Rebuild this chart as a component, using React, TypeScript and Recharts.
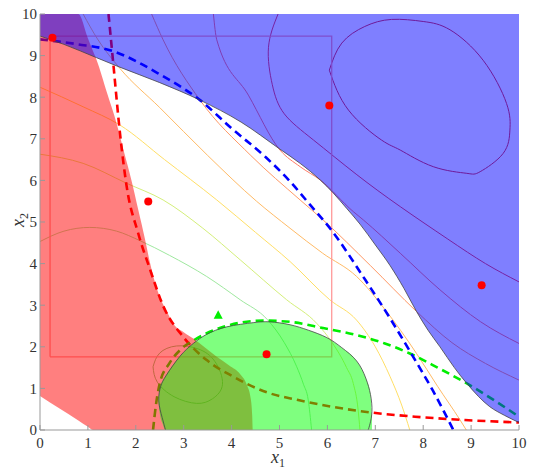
import { ComposedChart, Line, Area, Scatter, XAxis, YAxis, Label } from "recharts";

document.body.style.margin = "0";

// axis ticks
const xTicks = [0, 1, 2, 3, 4, 5, 6, 7, 8, 9, 10];
const yTicks = [0, 1, 2, 3, 4, 5, 6, 7, 8, 9, 10];

// constraint regions: [x, low, high]
const redRegion = [
  [0, 0.82, 10], [0.4, 0.52, 10], [0.8, 0.23, 10], [1.0, 0.08, 9.42], [1.11, 0, 9.1],
  [1.18, 0, 8.9], [1.4, 0, 8.1], [1.6, 0, 7.37], [1.75, 0, 6.7], [1.91, 0, 6.0],
  [2.05, 0, 5.3], [2.19, 0, 4.6], [2.3, 0, 4.0], [2.4, 0, 3.55], [2.5, 0, 3.2],
  [2.65, 0, 2.85], [2.78, 0, 2.56], [3.0, 0, 2.35], [3.2, 0, 2.2], [3.45, 0, 1.98],
  [3.69, 0, 1.76], [3.95, 0, 1.55], [4.18, 0, 1.34], [4.32, 0, 1.08], [4.4, 0, 0.75],
  [4.43, 0, 0.35], [4.44, 0, 0],
];
const greenRegion = [
  [2.47, 0.7, 0.7], [2.5, 0.4, 1.0], [2.56, 0.15, 1.18], [2.62, 0, 1.3], [2.8, 0, 1.6],
  [2.92, 0, 1.77], [3.2, 0, 2.08], [3.48, 0, 2.3], [3.9, 0, 2.48], [4.45, 0, 2.58],
  [4.8, 0, 2.6], [5.22, 0, 2.53], [5.6, 0, 2.4], [5.99, 0, 2.22], [6.3, 0, 1.98],
  [6.61, 0, 1.66], [6.8, 0, 1.25], [6.9, 0, 0.85], [6.93, 0, 0.3],
];
const blueRegion = [
  [0, 9.47, 10], [0.5, 9.27, 10], [1.18, 8.95, 10], [1.67, 8.72, 10], [2.5, 8.35, 10],
  [3.34, 7.93, 10], [4.2, 7.4, 10], [5.01, 6.75, 10], [5.43, 6.41, 10], [5.85, 6.01, 10],
  [6.12, 5.7, 10], [6.4, 5.33, 10], [6.68, 4.95, 10], [7.0, 4.45, 10], [7.31, 3.95, 10],
  [7.6, 3.4, 10], [7.86, 2.85, 10], [8.1, 2.4, 10], [8.35, 2.0, 10], [8.65, 1.5, 10],
  [8.91, 1.12, 10], [9.39, 0.56, 10], [9.7, 0.35, 10], [10, 0.18, 10],
];
const greenEdge = [
  [2.62, 0], [2.55, 0.3], [2.48, 0.7], [2.52, 1.05], [2.64, 1.32], [2.92, 1.77], [3.2, 2.08],
  [3.48, 2.3], [3.9, 2.48], [4.45, 2.58], [4.8, 2.6], [5.22, 2.53], [5.6, 2.4], [5.99, 2.22],
  [6.3, 1.98], [6.61, 1.66], [6.8, 1.25], [6.9, 0.85], [6.93, 0.45], [6.89, 0.15], [6.85, 0],
];

// objective contours, low (green) to high (red)
const c0 = [
  [2.36, 1.52], [2.5, 1.85], [2.85, 2.02], [3.3, 1.95], [3.65, 1.65], [3.81, 1.1],
  [3.6, 0.75], [3.27, 0.64], [2.8, 0.8], [2.45, 1.15], [2.36, 1.52],
];
const c1 = [
  [0, 4.53], [0.5, 4.78], [1.04, 4.87], [1.6, 4.78], [2.09, 4.55], [2.7, 4.2], [3.48, 3.69],
  [4.18, 3.13], [4.75, 2.65], [5.1, 2.1], [5.36, 1.52], [5.5, 1.1], [5.6, 0.72], [5.67, 0],
];
const c2 = [
  [0, 6.63], [0.9, 6.41], [1.81, 5.93], [2.57, 5.53], [3.4, 4.85], [4.18, 4.09], [5.15, 3.13],
  [5.78, 2.56], [6.1, 2.1], [6.4, 1.5], [6.54, 1.12], [6.64, 0.5], [6.68, 0],
];
const c3 = [
  [0, 8.24], [0.9, 7.77], [1.67, 7.33], [2.6, 6.5], [3.69, 5.53], [4.5, 4.75], [5.22, 4.05],
  [6.05, 3.13], [6.61, 2.64], [7.0, 2.0], [7.31, 1.28], [7.55, 0.6], [7.72, 0],
];
const c4 = [
  [0.9, 10], [1.2, 9.4], [1.67, 8.69], [2.5, 7.75], [3.5, 6.6], [4.52, 5.5], [5.22, 4.85],
  [5.9, 4.25], [6.61, 3.69], [7.2, 2.9], [7.86, 1.84], [8.3, 1.05], [8.77, 0.24], [8.9, 0],
];
const c5 = [
  [2.33, 10], [2.57, 9.38], [3.34, 7.93], [4.4, 6.6], [5.43, 5.53], [5.91, 5.05], [6.9, 3.95],
  [7.86, 2.85], [8.6, 2.1], [9.3, 1.6], [10, 1.2],
];
const c6 = [
  [3.62, 10], [3.69, 9.38], [4.35, 8.05], [5.01, 6.73], [5.43, 6.33], [5.85, 6.01], [6.54, 5.25],
  [6.75, 5.05], [7.52, 4.25], [8.35, 3.37], [9.2, 2.6], [10, 2.08],
];
const c7 = [
  [4.97, 10], [4.77, 9.2], [4.85, 8.3], [5.1, 7.6], [5.71, 6.97], [6.6, 6.15], [7.52, 5.37],
  [8.5, 4.6], [9.3, 4.0], [10, 3.56],
];
const c8 = [
  [6.04, 8.65], [6.3, 9.3], [6.78, 9.7], [7.34, 9.87], [8.0, 9.82], [8.56, 9.62], [9.25, 8.89],
  [9.74, 7.85], [9.81, 7.21], [9.67, 6.65], [9.19, 6.21], [8.91, 6.17], [8.21, 6.33],
  [7.52, 6.73], [7.13, 6.97], [6.44, 7.69], [6.04, 8.65],
];

// constraint boundaries of the model (dashed)
const blueDash = [
  [0, 9.39], [0.8, 9.27], [1.46, 9.13], [2.5, 8.55], [3.34, 7.93], [4.0, 7.25], [4.72, 6.55],
  [5.2, 6.0], [5.64, 5.41], [6.08, 4.81], [6.79, 3.61], [7.3, 2.7], [7.77, 1.8],
  [8.2, 0.95], [8.63, 0],
];
const redDash = [
  [1.43, 10], [1.53, 8.81], [1.67, 7.13], [1.81, 5.85], [2.05, 4.73], [2.3, 3.85], [2.58, 2.96],
  [2.99, 2.24], [3.48, 1.68], [4.04, 1.28], [4.75, 0.9], [5.39, 0.72], [6.09, 0.56],
  [6.92, 0.42], [7.83, 0.32], [8.87, 0.24], [10, 0.18],
];
const greenDash = [
  [2.36, 0], [2.42, 0.6], [2.5, 1.12], [2.7, 1.6], [2.95, 1.95], [3.2, 2.15], [3.83, 2.48],
  [4.66, 2.63], [5.22, 2.6], [5.91, 2.45], [6.61, 2.28], [7.2, 2.08], [7.72, 1.84],
  [8.3, 1.5], [8.91, 1.12], [9.5, 0.7], [10, 0.32],
];

// trust region box
const box = [[0.21, 1.76], [0.21, 9.47], [6.09, 9.47], [6.09, 1.76], [0.21, 1.76]];

// sample points
const samples = [[0.26, 9.43], [2.26, 5.49], [6.04, 7.8], [4.73, 1.82], [9.22, 3.48]];
const candidate = [[3.72, 2.76]];

const pts = (a: number[][]) => a.map(([x, y]) => ({ x, y }));
const rng = (a: number[][]) => a.map(([x, lo, hi]) => ({ x, r: [lo, hi] }));

const contours = [
  { d: c0, c: "#7fcf7f", t: "natural" },
  { d: c1, c: "#9fe89f", t: "monotone" },
  { d: c2, c: "#d4ef7a", t: "monotone" },
  { d: c3, c: "#ffdf66", t: "monotone" },
  { d: c4, c: "#ffbb66", t: "monotone" },
  { d: c5, c: "#ff9966", t: "monotone" },
  { d: c6, c: "#ff7a66", t: "monotone" },
  { d: c7, c: "#ee4444", t: "natural" },
  { d: c8, c: "#dd3333", t: "natural" },
];

const FONT = "'Times New Roman', 'Liberation Serif', 'DejaVu Serif', serif";
const GRID = "#999";

function XLabel() {
  return (
    <text x={271} y={463} fontFamily={FONT} fontSize={18} fill="#333">
      <tspan fontStyle="italic">x</tspan>
      <tspan fontSize={12} dy={4}>1</tspan>
    </text>
  );
}

function YLabel() {
  return (
    <text x={24} y={227} fontFamily={FONT} fontSize={18} fill="#333" transform="rotate(-90 24 227)">
      <tspan fontStyle="italic">x</tspan>
      <tspan fontSize={12} dy={4}>2</tspan>
    </text>
  );
}

const Dot = (p: any) => <circle cx={p.cx} cy={p.cy} r={4} fill="#ff0000" />;
const Tri = (p: any) => (
  <polygon
    points={`${p.cx},${p.cy - 5} ${p.cx - 4.5},${p.cy + 3.5} ${p.cx + 4.5},${p.cy + 3.5}`}
    fill="#00ee00"
  />
);

export default function App() {
  const tick = { fontSize: 15, fill: "#333", fontFamily: FONT };
  return (
    <div style={{ width: 535, height: 473 }}>
      <ComposedChart width={535} height={473} margin={{ top: 14, right: 16, bottom: 0, left: 0 }}>
        <XAxis
          xAxisId="b"
          type="number"
          dataKey="x"
          domain={[0, 10]}
          ticks={xTicks}
          allowDataOverflow
          height={43}
          tick={tick}
          tickSize={-5}
          tickMargin={12}
          stroke={GRID}
        >
          <Label content={<XLabel />} />
        </XAxis>
        <XAxis
          xAxisId="t"
          orientation="top"
          type="number"
          domain={[0, 10]}
          ticks={xTicks}
          allowDataOverflow
          height={0}
          tickSize={-5}
          tickFormatter={() => ""}
          stroke={GRID}
        />
        <YAxis
          yAxisId="l"
          type="number"
          domain={[0, 10]}
          ticks={yTicks}
          allowDataOverflow
          width={40}
          tick={tick}
          tickSize={-5}
          tickMargin={8}
          stroke={GRID}
        >
          <Label content={<YLabel />} />
        </YAxis>
        <YAxis
          yAxisId="r"
          orientation="right"
          type="number"
          domain={[0, 10]}
          ticks={yTicks}
          allowDataOverflow
          width={0}
          tickSize={-5}
          tickFormatter={() => ""}
          stroke={GRID}
        />

        {contours.map((c, i) => (
          <Line
            key={`c${i}`}
            xAxisId="b"
            yAxisId="l"
            data={pts(c.d)}
            dataKey="y"
            type={c.t as any}
            stroke={c.c}
            strokeWidth={1}
            dot={false}
            activeDot={false}
            isAnimationActive={false}
            zIndex={10}
          />
        ))}
        <Line
          xAxisId="b"
          yAxisId="l"
          data={pts(box)}
          dataKey="y"
          type="linear"
          stroke="#ff9a9a"
          strokeWidth={1.3}
          dot={false}
          activeDot={false}
          isAnimationActive={false}
          zIndex={11}
        />
        {[
          { d: redDash, c: "#ff0000" },
          { d: greenDash, c: "#00ee00" },
          { d: blueDash, c: "#0000ff" },
        ].map((s, i) => (
          <Line
            key={`d${i}`}
            xAxisId="b"
            yAxisId="l"
            data={pts(s.d)}
            dataKey="y"
            type="monotone"
            stroke={s.c}
            strokeWidth={2.6}
            strokeDasharray="8 5"
            dot={false}
            activeDot={false}
            isAnimationActive={false}
            zIndex={12}
          />
        ))}

        <Area
          xAxisId="b"
          yAxisId="l"
          data={rng(redRegion)}
          dataKey="r"
          type="monotone"
          fill="#ff0000"
          fillOpacity={0.5}
          stroke="none"
          dot={false}
          activeDot={false}
          isAnimationActive={false}
          zIndex={20}
        />
        <Area
          xAxisId="b"
          yAxisId="l"
          data={rng(greenRegion)}
          dataKey="r"
          type="monotone"
          fill="#00ff00"
          fillOpacity={0.5}
          stroke="none"
          dot={false}
          activeDot={false}
          isAnimationActive={false}
          zIndex={21}
        />
        <Area
          xAxisId="b"
          yAxisId="l"
          data={rng(blueRegion)}
          dataKey="r"
          type="monotone"
          fill="#0000ff"
          fillOpacity={0.5}
          stroke="none"
          dot={false}
          activeDot={false}
          isAnimationActive={false}
          zIndex={22}
        />
        <Line
          xAxisId="b"
          yAxisId="l"
          data={pts(blueRegion)}
          dataKey="y"
          type="monotone"
          stroke="#444"
          strokeWidth={0.8}
          dot={false}
          activeDot={false}
          isAnimationActive={false}
          zIndex={23}
        />
        <Line
          xAxisId="b"
          yAxisId="l"
          data={pts(greenEdge)}
          dataKey="y"
          type="natural"
          stroke="#444"
          strokeWidth={0.8}
          dot={false}
          activeDot={false}
          isAnimationActive={false}
          zIndex={23}
        />
        <Scatter
          xAxisId="b"
          yAxisId="l"
          data={pts(samples)}
          dataKey="y"
          shape={Dot}
          isAnimationActive={false}
          zIndex={30}
        />
        <Scatter
          xAxisId="b"
          yAxisId="l"
          data={pts(candidate)}
          dataKey="y"
          shape={Tri}
          isAnimationActive={false}
          zIndex={30}
        />
      </ComposedChart>
    </div>
  );
}
